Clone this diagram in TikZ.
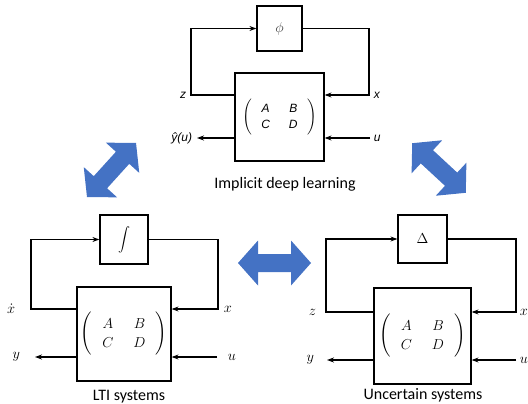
\documentclass[tikz,border=0pt]{standalone}
\usepackage{amsmath}
\usepackage{fontspec}
\newfontfamily\capfont{Carlito}
\newfontfamily\helv{Liberation Sans}
\usetikzlibrary{arrows.meta, positioning}
\definecolor{arrowblue}{HTML}{4472C4}

\begin{document}
\begin{tikzpicture}[x=1pt, y=-1pt, >={Stealth[length=7pt,width=5pt]}, line width=1.1pt,
  block/.style={draw, line width=1.2pt, inner sep=0pt},
  captext/.style={font=\capfont\fontsize{16}{18}\selectfont, anchor=base},
  mathlbl/.style={font=\fontsize{14}{17}\selectfont},
  mtx/.style={font=\fontsize{15}{18}\selectfont},
  sanslbl/.style={font=\helv\itshape\fontsize{12}{16}\selectfont},
  dblarrow/.pic={\fill[arrowblue] (-36.5,0) -- (-16.5,-22.5) -- (-16.5,-9) -- (16.5,-9) -- (16.5,-22.5)
     -- (36.5,0) -- (16.5,22.5) -- (16.5,9) -- (-16.5,9) -- (-16.5,22.5) -- cycle;}]
  \useasboundingbox (0,0) rectangle (528,404);

  % implicit deep learning
  \node[block, minimum width=45pt, minimum height=45pt, font=\fontsize{14}{17}\selectfont] (phi) at (279.5,28.5) {\color{darkgray}$\phi$};
  \node[block, sanslbl, minimum width=89pt, minimum height=88pt] (idl) at (279.5,117)
    {\setlength{\arraycolsep}{9.5pt}$\left(\begin{array}{cc}\text{A} & \text{B}\\ \text{C} & \text{D}\end{array}\right)$};
  \coordinate (iz) at (191,95);
  \coordinate (ix) at (369,95);
  \coordinate (iy) at (197,138);
  \coordinate (iu) at (370,138);
  \node[sanslbl, left=1pt of iz]  (izl) {z};
  \node[sanslbl, right=1pt of ix] (ixl) {x};
  \node[sanslbl, left=1pt of iy]  (iyl) {\^y(u)};
  \node[sanslbl, right=0pt of iu] (iul) {u};
  \draw[->] (idl.west |- iz) -- (iz) |- (phi);
  \draw[->] (phi) -| (ix) -- (idl.east |- ix);
  \draw[->] (idl.west |- iy) -- (iy);
  \draw[->] (iu) -- (idl.east |- iu);
  \node[captext] (idlcap) at (285,188) {Implicit deep learning};

  % LTI systems
  \node[block, minimum width=48pt, minimum height=49pt, font=\fontsize{12}{14}\selectfont] (int) at (124,239.5) {$\displaystyle\int$};
  \node[block, mtx, minimum width=94pt, minimum height=94pt] (lti) at (124,334)
    {\setlength{\arraycolsep}{10pt}\renewcommand{\arraystretch}{1.1}$\left(\begin{array}{cc} A & B\\ C & D\end{array}\right)$};
  \coordinate (lxd) at (31,309);
  \coordinate (lx) at (218,309);
  \coordinate (ly) at (35,357);
  \coordinate (lu) at (217,357);
  \node[mathlbl, left=12pt of lxd] (lxdl) {$\dot x$};
  \node[mathlbl, right=2pt of lx]  (lxl)  {$x$};
  \node[mathlbl, left=11pt of ly]  (lyl)  {$y$};
  \node[mathlbl, right=7pt of lu]  (lul)  {$u$};
  \draw[->] (lti.west |- lxd) -- (lxd) |- (int);
  \draw[->] (int) -| (lx) -- (lti.east |- lx);
  \draw[->] (lti.west |- ly) -- (ly);
  \draw[->] (lu) -- (lti.east |- lu);
  \node[captext] (lticap) at (129,400) {LTI systems};

  % uncertain systems
  \node[block, mathlbl, minimum width=49pt, minimum height=48pt] (delta) at (422.5,239) {$\Delta$};
  \node[block, mtx, minimum width=97pt, minimum height=96pt] (unc) at (422.5,336)
    {\setlength{\arraycolsep}{10pt}\renewcommand{\arraystretch}{1.1}$\left(\begin{array}{cc} A & B\\ C & D\end{array}\right)$};
  \coordinate (uz) at (326,312);
  \coordinate (ux) at (516,312);
  \coordinate (uy) at (327,360);
  \coordinate (uu) at (516,360);
  \node[mathlbl, left=6pt of uz]  (uzl) {$z$};
  \node[mathlbl, left=9pt of uy]  (uyl) {$y$};
  \node[mathlbl, right=0pt of ux] (uxl) {$x$};
  \node[mathlbl, right=0pt of uu] (uul) {$u$};
  \draw[->] (unc.west |- uz) -- (uz) |- (delta);
  \draw[->] (delta) -| (ux) -- (unc.east |- ux);
  \draw[->] (unc.west |- uy) -- (uy);
  \draw[->] (uu) -- (unc.east |- uu);
  \node[captext] (unccap) at (423,399) {Uncertain systems};

  % blue double arrows
  \pic[rotate=47.8] at (111.5,170) {dblarrow};
  \pic[rotate=-42.8] at (439,168) {dblarrow};
  \pic at (274.5,263) {dblarrow};
\end{tikzpicture}
\end{document}
